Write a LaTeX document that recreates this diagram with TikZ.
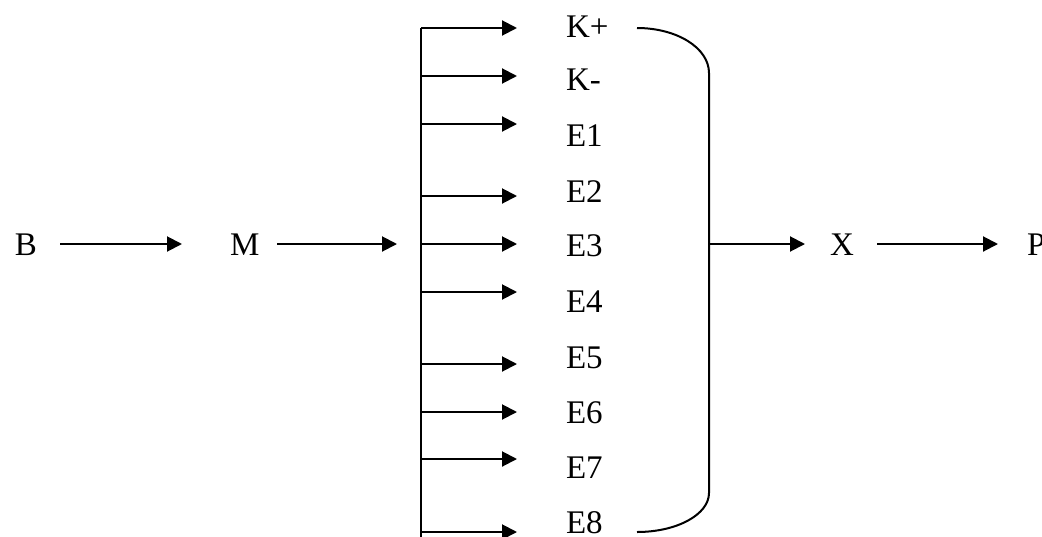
\documentclass[tikz,border=0pt]{standalone}
\usepackage{fontspec}
\setmainfont{Liberation Serif}
\usetikzlibrary{arrows.meta}
\begin{document}
\begin{tikzpicture}[x=1pt,y=-1pt,line width=2pt,
  arr/.style={-{Triangle[length=15pt,width=15pt]}},
  lbl/.style={font=\fontsize{33}{40}\selectfont,inner sep=0pt,anchor=base west}]
\useasboundingbox (0,0) rectangle (1042,536);
% main chain labels
\node[lbl] (B) at (14,255) {B};
\node[lbl] (M) at (229,255) {M};
\node[lbl] (X) at (829,255) {X};
\node[lbl] (P) at (1026,255) {P};
% chain connectors
\coordinate (bs) at (60,244);   \coordinate (me) at (182,244);
\coordinate (ms) at (277,244);  \coordinate (busin) at (397,244);
\coordinate (brk) at (709,244); \coordinate (xe) at (805,244);
\coordinate (xs) at (877,244);  \coordinate (pe) at (998,244);
\draw[arr] (bs) -- (me);
\draw[arr] (ms) -- (busin);
\draw[arr] (brk) -- (xe);
\draw[arr] (xs) -- (pe);
% bus line
\coordinate (bustop) at (421,28);
\coordinate (busbot) at (421,537);
\draw (bustop) -- (busbot);
% branch arrows and labels
\foreach \ay/\by/\t [count=\i] in {28/37/K+,76/90/K-,124/146/E1,196/202/E2,244/256/E3,292/312/E4,364/368/E5,412/423/E6,459/478/E7,532/533/E8}{
  \coordinate (s\i) at (421,\ay);
  \coordinate (e\i) at (517,\ay);
  \draw[arr] (s\i) -- (e\i);
  \node[lbl] (l\i) at (565,\by) {\t};
}
% bracket
\coordinate (bt) at (637,28);
\coordinate (bb) at (637,532);
\draw (bt) .. controls (677,28) and (709,48) .. (709,73)
  -- (709,493) .. controls (709,514.5) and (677,532) .. (bb);
\end{tikzpicture}
\end{document}
